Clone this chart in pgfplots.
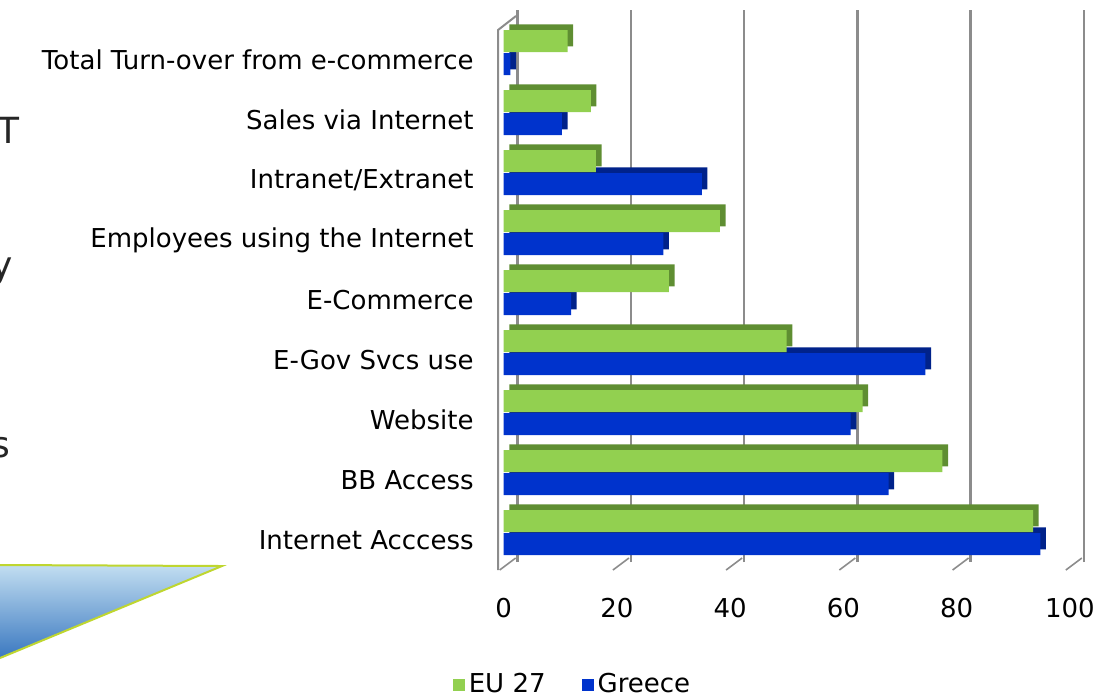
\documentclass[border=0pt]{standalone}
\usepackage{pgfplots}
\pgfplotsset{compat=1.18}
\usepackage{pgfplotstable}
\usepackage{fontspec}
\setmainfont{DejaVu Sans}
\definecolor{eugreen}{HTML}{92D050}
\definecolor{eugreendark}{HTML}{5F8E32}
\definecolor{grblue}{HTML}{0033CC}
\definecolor{grbluedark}{HTML}{00228A}
\definecolor{gridgray}{HTML}{8C8C8C}
\definecolor{triborder}{HTML}{BFD630}
\definecolor{tritop}{HTML}{C2DEF1}
\definecolor{tribot}{HTML}{3A78C0}

% idx: 0 = Internet Acccess (bottom) ... 8 = Total Turn-over (top)
\pgfplotstableread{
idx eu gr
0 93.5 94.8
1 77.5 68.0
2 63.4 61.3
3 50.0 74.5
4 29.2 11.9
5 38.2 28.2
6 16.3 35.0
7 15.4 10.3
8 11.3 1.2
}\datatable

\begin{document}
\begin{tikzpicture}
% fragments of the slide at the left
\shade[top color=tritop, bottom color=tribot] (0pt,-282.5pt) -- (111pt,-283pt) -- (0pt,-329pt) -- cycle;
\draw[triborder, line width=1pt] (0pt,-282.5pt) -- (111pt,-283pt) -- (0pt,-329pt);
\node[anchor=base east, font=\fontsize{18}{20}\selectfont, inner sep=0pt, text=black!85] at (10pt,-71.5pt) {T};
\node[anchor=base east, font=\fontsize{18}{20}\selectfont, inner sep=0pt, text=black!85] at (6.5pt,-138.5pt) {y};
\node[anchor=base east, font=\fontsize{18}{20}\selectfont, inner sep=0pt, text=black!85] at (5.5pt,-228.5pt) {s};

\begin{axis}[
  at={(249pt,-288pt)}, anchor=south west,
  scale only axis, width=285.9pt, height=276pt,
  xmin=-1, xmax=100, ymin=-0.6, ymax=8.6,
  xtick={0,20,40,60,80,100}, ytick={0,1,2,3,4,5,6,7,8},
  yticklabels={Internet Acccess, BB Access, Website, E-Gov Svcs use, E-Commerce, Employees using the Internet, Intranet/Extranet, Sales via Internet, Total Turn-over from e-commerce},
  axis line style={draw=none}, major tick length=0pt,
  xmajorgrids,
  major grid style={gridgray, line width=1.2pt, xshift=7pt, yshift=7pt},
  xticklabel style={anchor=center, yshift=-16pt},
  yticklabel style={anchor=east, inner sep=0pt, xshift=-12pt},
  /pgf/number format/assume math mode=true,
  tick label style={font=\fontsize{13}{15}\selectfont},
  xbar, bar width=11pt,
  clip=false,
  reverse legend,
  legend style={at={(0.132,-0.197)}, anchor=center, draw=none, fill=none,
    legend columns=2, font=\fontsize{13}{15}\selectfont,
    /tikz/every even column/.append style={column sep=16pt}},
]
% left wall and floor ticks
\draw[gridgray, line width=1pt] (axis cs:-1,-0.5) -- (axis cs:-1,8.5) -- ++(9pt,7pt);
\pgfplotsinvokeforeach{0,20,40,60,80,100}{
  \draw[gridgray, line width=0.8pt] ([xshift=-2pt]axis cs:#1,-0.5) -- ++(8pt,6pt);
}
% Greece: depth then face
\addplot[xbar, bar shift=-2pt, fill=grbluedark, draw=none, xshift=2.8pt, yshift=2.8pt, forget plot]
  table[x=gr, y=idx] {\datatable};
\addplot[xbar, bar shift=-2pt, fill=grblue, draw=none,
  legend image code/.code={\fill[grblue] (0pt,-3pt) rectangle (6pt,3pt);}]
  table[x=gr, y=idx] {\datatable};
\addlegendentry{Greece}
% EU 27: depth then face
\addplot[xbar, bar shift=9.5pt, fill=eugreendark, draw=none, xshift=2.8pt, yshift=2.8pt, forget plot]
  table[x=eu, y=idx] {\datatable};
\addplot[xbar, bar shift=9.5pt, fill=eugreen, draw=none,
  legend image code/.code={\fill[eugreen] (0pt,-3pt) rectangle (6pt,3pt);}]
  table[x=eu, y=idx] {\datatable};
\addlegendentry{EU 27}
\end{axis}
\pgfresetboundingbox
\useasboundingbox (0pt,0pt) rectangle (547.5pt,-348.5pt);
\end{tikzpicture}
\end{document}
